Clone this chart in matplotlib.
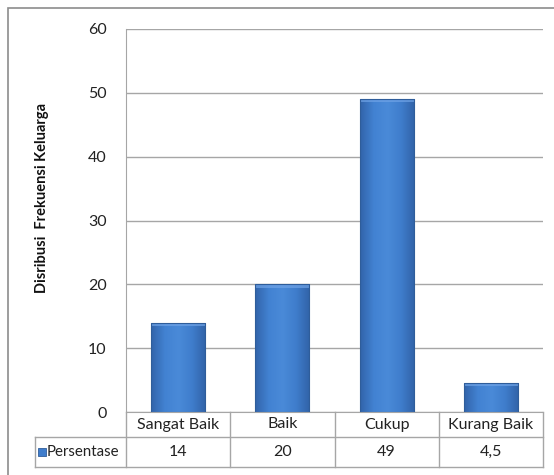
import numpy as np
import matplotlib.pyplot as plt
from matplotlib.patches import Rectangle
from matplotlib.colors import LinearSegmentedColormap

# Data
kategori = ["Sangat Baik", "Baik", "Cukup", "Kurang Baik"]
persentase = [14, 20, 49, 4.5]
label_nilai = ["14", "20", "49", "4,5"]
nama_seri = "Persentase"

plt.rcParams['font.family'] = ['Lato', 'DejaVu Sans']

W, H = 554, 475
fig = plt.figure(figsize=(W / 100, H / 100), dpi=100)

# outer chart border
fig.patches.append(Rectangle((8 / W, -0.1), 1.2, 1 - 8 / H + 0.1, transform=fig.transFigure,
                             fill=False, edgecolor='#8c8c8c', linewidth=1.2))

x0, x1, y0, y1 = 126, 543, 412, 29
ax = fig.add_axes([x0 / W, 1 - y0 / H, (x1 - x0) / W, (y0 - y1) / H])

n = len(kategori)
ax.set_yticks(range(0, 61, 10))
ax.set_xticks([])
ax.tick_params(axis='y', length=0, pad=14, labelsize=11.5, labelcolor='#222222')
ax.grid(axis='y', color='#a6a6a6', linewidth=1)
ax.set_axisbelow(True)
for s in ['top', 'right']:
    ax.spines[s].set_visible(False)
ax.spines['left'].set_color('#a6a6a6')
ax.spines['bottom'].set_color('#a6a6a6')

# bars with gradient
cmap = LinearSegmentedColormap.from_list('biru', ['#3264aa', '#4282d2', '#4a8ad8', '#3f7dcc', '#3163a8'])
grad = np.linspace(0, 1, 100).reshape(1, -1)
lebar = 0.52
for i, v in enumerate(persentase):
    xl = i + 0.5 - lebar / 2
    rect = Rectangle((xl, 0), lebar, v, facecolor='none', edgecolor='#2f5d9a', linewidth=0.8, zorder=3)
    ax.add_patch(rect)
    im = ax.imshow(grad, cmap=cmap, extent=[xl, xl + lebar, 0, v], aspect='auto', zorder=2)
    im.set_clip_path(rect)
    # light bevel at top
    ax.add_patch(Rectangle((xl, v - 0.5), lebar, 0.5, facecolor='#6fa3e6', edgecolor='none',
                           alpha=0.7, zorder=2.5))
ax.set_xlim(0, n)
ax.set_ylim(0, 60)

# data table below the axis
tinggi = y0 - y1
h1 = 25 / tinggi
h2 = 30 / tinggi
kiri = -(x0 - 35) / (x1 - x0)
garis = dict(color='#a6a6a6', linewidth=1, transform=ax.transAxes, clip_on=False)
for i in range(n + 1):
    ax.plot([i / n, i / n], [0, -(h1 + h2)], **garis)
ax.plot([kiri, 1], [-h1, -h1], **garis)
ax.plot([kiri, 1], [-(h1 + h2), -(h1 + h2)], **garis)
ax.plot([kiri, kiri], [-h1, -(h1 + h2)], **garis)
for i, (k, lb) in enumerate(zip(kategori, label_nilai)):
    ax.text((i + 0.5) / n, -h1 / 2, k, transform=ax.transAxes, ha='center', va='center',
            fontsize=11.5, color='#222222')
    ax.text((i + 0.5) / n, -h1 - h2 / 2, lb, transform=ax.transAxes, ha='center', va='center',
            fontsize=11.5, color='#222222')
ax.add_patch(Rectangle((kiri + 0.006, -h1 - h2 / 2 - 0.011), 0.02, 0.022, transform=ax.transAxes,
                       facecolor='#3f7dcc', edgecolor='#2f5d9a', linewidth=0.6, clip_on=False))
ax.text(kiri + 0.029, -h1 - h2 / 2, nama_seri, transform=ax.transAxes, ha='left', va='center',
        fontsize=10.8, color='#222222')

fig.text(42 / W, 1 - 198 / H, "Disribusi  Frekuensi Keluarga", rotation=90, ha='center', va='center',
         fontsize=10.5, fontweight='bold', color='#111111')

fig.savefig('out.png', dpi=100)
